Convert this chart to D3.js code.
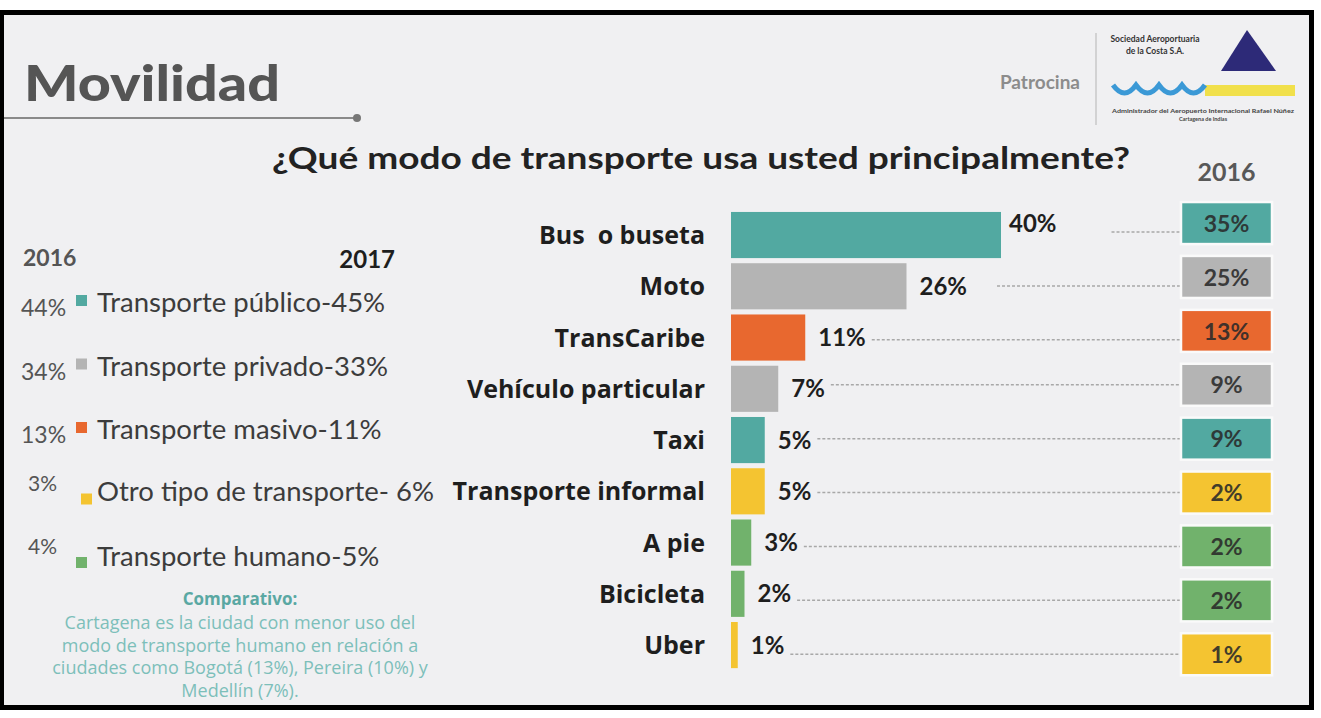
<!DOCTYPE html>
<html>
<head>
<meta charset="utf-8">
<script src="https://cdn.jsdelivr.net/npm/d3@7"></script>
<style>
  html, body { margin: 0; padding: 0; background: #ffffff; }
  svg { display: block; }
  text { font-family: Lato, "Open Sans", sans-serif; }
</style>
</head>
<body>
<svg id="chart" width="1321" height="718"></svg>
<script>
// ---------- DATA ----------
const categories = ["Bus  o buseta", "Moto", "TransCaribe", "Vehículo particular", "Taxi",
                    "Transporte informal", "A pie", "Bicicleta", "Uber"];
const values2017 = [40, 26, 11, 7, 5, 5, 3, 2, 1];
const values2016 = [35, 25, 13, 9, 9, 2, 2, 2, 1];
const modeGroup  = ["público", "privado", "masivo", "privado", "público",
                    "otro", "humano", "humano", "otro"];

const groupKeys    = ["público", "privado", "masivo", "otro", "humano"];
const legendNames  = ["Transporte público", "Transporte privado", "Transporte masivo",
                      "Otro tipo de transporte", "Transporte humano"];
const legend2016   = [44, 34, 13, 3, 4];
const legend2017   = [45, 33, 11, 6, 5];

const titleText = "¿Qué modo de transporte usa usted principalmente?";
const comparativoTitle = "Comparativo:";
const comparativoLines = [
  "Cartagena es la ciudad con menor uso del",
  "modo de transporte humano en relación a",
  "ciudades como Bogotá (13%), Pereira (10%) y",
  "Medellín (7%)."
];

// ---------- SETUP ----------
const svg = d3.select("#chart");
const color = d3.scaleOrdinal()
  .domain(groupKeys)
  .range(["#52a9a1", "#b4b4b4", "#e8682f", "#f4c431", "#71b26c"]);

// Frame
svg.append("rect").attr("x", 0).attr("y", 10).attr("width", 1314).attr("height", 700).attr("fill", "#000");
svg.append("rect").attr("x", 4).attr("y", 15).attr("width", 1305).attr("height", 690).attr("fill", "#f0f0f2");

// ---------- HEADER ----------
svg.append("text")
  .attr("x", 24).attr("y", 101)
  .attr("textLength", 256).attr("lengthAdjust", "spacingAndGlyphs")
  .style("font-size", "50px").style("font-weight", 900).style("fill", "#555555")
  .text("Movilidad");
svg.append("line").attr("x1", 4).attr("x2", 356).attr("y1", 118).attr("y2", 118)
  .attr("stroke", "#8a8a8a").attr("stroke-width", 2);
svg.append("circle").attr("cx", 357).attr("cy", 118).attr("r", 4).attr("fill", "#777");

svg.append("text")
  .attr("x", 1080).attr("y", 89).attr("text-anchor", "end")
  .style("font-size", "19px").style("font-weight", 700).style("fill", "#8c8c8c")
  .text("Patrocina");
svg.append("line").attr("x1", 1096).attr("x2", 1096).attr("y1", 33).attr("y2", 125)
  .attr("stroke", "#c8c8c8").attr("stroke-width", 1.5);

// Sponsor logo
svg.append("text").attr("x", 1155).attr("y", 42).attr("text-anchor", "middle")
  .style("font-size", "8.5px").style("font-weight", 700).style("fill", "#333")
  .text("Sociedad Aeroportuaria");
svg.append("text").attr("x", 1155).attr("y", 54).attr("text-anchor", "middle")
  .style("font-size", "8.5px").style("font-weight", 700).style("fill", "#333")
  .text("de la Costa S.A.");
svg.append("path").attr("d", "M1247,30 L1276,71 L1221,71 Z").attr("fill", "#2d2a78");
svg.append("rect").attr("x", 1205).attr("y", 85).attr("width", 90).attr("height", 11).attr("fill", "#f1e04b");
const wave = d3.path();
const w0 = 1113, ww = 23;
wave.moveTo(w0, 85);
for (let i = 0; i < 4; i++) {
  wave.quadraticCurveTo(w0 + (i + 0.5) * ww, 101, w0 + (i + 1) * ww, 85);
}
svg.append("path").attr("d", wave.toString()).attr("fill", "none")
  .attr("stroke", "#3b99d6").attr("stroke-width", 5);
svg.append("text").attr("x", 1203).attr("y", 113).attr("text-anchor", "middle")
  .attr("textLength", 182).attr("lengthAdjust", "spacingAndGlyphs")
  .style("font-size", "5.5px").style("font-weight", 700).style("fill", "#444")
  .text("Administrador del Aeropuerto Internacional Rafael Núñez");
svg.append("text").attr("x", 1203).attr("y", 121).attr("text-anchor", "middle")
  .style("font-size", "5.5px").style("font-weight", 700).style("fill", "#444")
  .text("Cartagena de Indias");

// Title
svg.append("text")
  .attr("x", 272).attr("y", 169)
  .attr("textLength", 858).attr("lengthAdjust", "spacingAndGlyphs")
  .style("font-size", "30px").style("font-weight", 700).style("fill", "#222")
  .text(titleText);

// ---------- BAR CHART (2017) ----------
const x = d3.scaleLinear().domain([0, 40]).range([731, 1001]);
const y = d3.scaleBand().domain(categories).range([209.4, 670.7]).paddingInner(0.1).paddingOuter(0.05);
const yBox = d3.scaleBand().domain(categories).range([196.1, 681.2]).paddingInner(0.22).paddingOuter(0.11);

const rows = categories.map((c, i) => ({ cat: c, v17: values2017[i], v16: values2016[i], g: modeGroup[i], i }));

// category labels
svg.append("g").selectAll("text").data(rows).join("text")
  .attr("x", 705)
  .attr("y", d => y(d.cat) + y.bandwidth() / 2)
  .attr("dy", "0.36em")
  .attr("text-anchor", "end")
  .style("white-space", "pre")
  .style("font-family", "'Open Sans', Lato, sans-serif")
  .style("font-size", "25px").style("font-weight", 700).style("fill", "#1e1e1e")
  .text(d => d.cat);

// bars
svg.append("g").selectAll("rect").data(rows).join("rect")
  .attr("x", x(0))
  .attr("y", d => y(d.cat))
  .attr("width", d => x(d.v17) - x(0))
  .attr("height", y.bandwidth())
  .attr("fill", d => color(d.g));

// value labels
const valLabels = svg.append("g").selectAll("text").data(rows).join("text")
  .attr("x", d => x(d.v17) + (d.i === 0 ? 8 : 13))
  .attr("y", d => y(d.cat) + y.bandwidth() / 2 + (d.i === 0 ? -12 : 0))
  .attr("dy", "0.36em")
  .style("font-size", "24px").style("font-weight", 700).style("fill", "#1e1e1e")
  .text(d => d.v17 + "%");

// dotted leader lines
const boxX = 1181, boxW = 91;
valLabels.each(function (d) {
  const bb = this.getBBox();
  const start = bb.x + bb.width + (d.i < 2 ? 30 + (d.i === 0 ? 25 : 0) : 6);
  svg.append("line")
    .attr("x1", start).attr("x2", boxX)
    .attr("y1", yBox(d.cat) + yBox.bandwidth() / 2 + (d.i < 3 ? 9 : 0))
    .attr("y2", yBox(d.cat) + yBox.bandwidth() / 2 + (d.i < 3 ? 9 : 0))
    .attr("stroke", "#a8a8a8").attr("stroke-width", 1.5).attr("stroke-dasharray", "3,2");
});

// ---------- 2016 BOXES ----------
svg.append("text")
  .attr("x", boxX + boxW / 2).attr("y", 181).attr("text-anchor", "middle")
  .style("font-size", "25px").style("font-weight", 700).style("fill", "#585858")
  .text("2016");

svg.append("g").selectAll("rect").data(rows).join("rect")
  .attr("x", boxX)
  .attr("y", d => yBox(d.cat))
  .attr("width", boxW)
  .attr("height", yBox.bandwidth())
  .attr("fill", d => color(d.g))
  .attr("stroke", "#fafafa").attr("stroke-width", 2.5);

svg.append("g").selectAll("text").data(rows).join("text")
  .attr("x", boxX + boxW / 2)
  .attr("y", d => yBox(d.cat) + yBox.bandwidth() / 2)
  .attr("dy", "0.38em")
  .attr("text-anchor", "middle")
  .style("font-size", "23px").style("font-weight", 700).style("fill", "#2a2a2a").style("opacity", 0.88)
  .text(d => d.v16 + "%");

// ---------- LEFT LEGEND ----------
svg.append("text").attr("x", 23).attr("y", 266)
  .style("font-size", "23px").style("font-weight", 700).style("fill", "#555")
  .text("2016");
svg.append("text").attr("x", 395).attr("y", 268).attr("text-anchor", "end")
  .style("font-size", "24px").style("font-weight", 700).style("fill", "#1e1e1e")
  .text("2017");

const legY = d3.scaleLinear().domain([0, 4]).range([312, 566]);
const legend = svg.append("g").selectAll("g").data(groupKeys).join("g");
legend.append("text")
  .attr("x", (d, i) => i < 3 ? 21 : 28)
  .attr("y", (d, i) => i < 3 ? legY(i) + 4 : legY(i) - 12)
  .style("font-size", (d, i) => i < 3 ? "23px" : "21px")
  .style("fill", "#555")
  .text((d, i) => legend2016[i] + "%");
legend.append("rect")
  .attr("x", (d, i) => i === 3 ? 81 : 76)
  .attr("y", (d, i) => i < 3 ? legY(i) - 17 : legY(i) - 9)
  .attr("width", 11).attr("height", 11)
  .attr("fill", d => color(d));
legend.append("text")
  .attr("x", 97)
  .attr("y", (d, i) => legY(i) + (i === 3 ? -2 : 0))
  .style("font-size", "27.5px").style("fill", "#3c3c3c")
  .text((d, i) => legendNames[i] + (i === 3 ? "- " : "-") + legend2017[i] + "%");

// Comparativo
svg.append("text").attr("x", 240).attr("y", 605).attr("text-anchor", "middle")
  .style("font-family", "'Open Sans', Lato, sans-serif")
  .style("font-size", "17px").style("font-weight", 700).style("fill", "#5aa8a3")
  .text(comparativoTitle);
svg.append("g").selectAll("text").data(comparativoLines).join("text")
  .attr("x", 240)
  .attr("y", (d, i) => 629 + i * 22.5)
  .attr("text-anchor", "middle")
  .style("font-family", "'Open Sans', Lato, sans-serif")
  .style("font-size", "18px").style("fill", "#7dbfba")
  .text(d => d);

// redraw bottom frame edge over text that runs past the panel
svg.append("rect").attr("x", 0).attr("y", 705).attr("width", 1314).attr("height", 5).attr("fill", "#000");
</script>
</body>
</html>
